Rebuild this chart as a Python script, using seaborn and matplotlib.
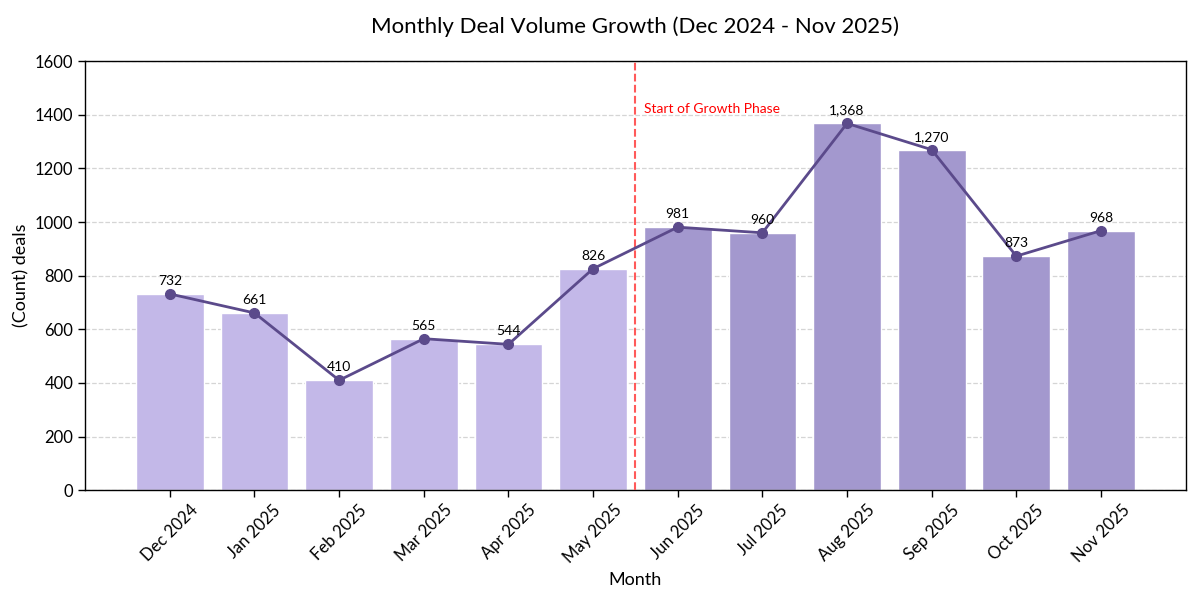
import matplotlib
matplotlib.use("Agg")
import matplotlib.pyplot as plt
import seaborn as sns
import pandas as pd
import numpy as np

months = ["Dec 2024", "Jan 2025", "Feb 2025", "Mar 2025", "Apr 2025", "May 2025",
          "Jun 2025", "Jul 2025", "Aug 2025", "Sep 2025", "Oct 2025", "Nov 2025"]
deals = [732, 661, 410, 565, 544, 826, 981, 960, 1368, 1270, 873, 968]
phase = ["Pre"] * 6 + ["Growth"] * 6

sns.set_theme(style="white")
plt.rcParams['font.family'] = ['Lato', 'DejaVu Sans']
plt.rcParams['text.color'] = 'black'
plt.rcParams['axes.labelcolor'] = 'black'
plt.rcParams['xtick.color'] = 'black'
plt.rcParams['ytick.color'] = 'black'

df = pd.DataFrame({"Month": months, "deals": deals, "phase": phase})

fig, ax = plt.subplots(figsize=(12, 6), dpi=100)
fig.subplots_adjust(left=0.071, right=0.988, top=0.898, bottom=0.183)

palette = {"Pre": "#C3B8E8", "Growth": "#A398CE"}
sns.barplot(data=df, x="Month", y="deals", hue="phase", palette=palette, dodge=False,
            width=0.8, edgecolor="white", linewidth=1, legend=False, ax=ax, saturation=1)
x = np.arange(len(months))
ax.plot(x, deals, color="#5B4A8B", linewidth=2, marker="o", markersize=7, zorder=5)
for xi, v in zip(x, deals):
    ax.annotate(f"{v:,}", (xi, v), xytext=(0, 5), textcoords="offset points",
                ha="center", va="bottom", fontsize=10, color="black", zorder=6)

ax.axvline(5.5, color="#FF5A5A", linestyle="--", linewidth=1.5, zorder=4)
ax.text(5.6, 1400, "Start of Growth Phase", color="red", fontsize=10, va="bottom", ha="left")

ax.set_xlim(-1, 12)
ax.set_ylim(0, 1600)
ax.set_yticks(range(0, 1601, 200))
ax.yaxis.grid(True, linestyle="--", color="#D5D5D5", linewidth=0.9)
ax.set_axisbelow(True)
for s in ax.spines.values():
    s.set_color("black")
    s.set_linewidth(1)
ax.tick_params(axis="both", which="both", length=5, width=1, color="black", labelcolor="black",
               labelsize=12, bottom=True, left=True)
plt.setp(ax.get_xticklabels(), rotation=45, ha="center")
ax.set_xlabel("Month", fontsize=13, color="black")
ax.set_ylabel("(Count) deals", fontsize=13, color="black")
ax.set_title("Monthly Deal Volume Growth (Dec 2024 - Nov 2025)", fontsize=16, pad=20, color="black")

fig.savefig("out.png", dpi=100)
